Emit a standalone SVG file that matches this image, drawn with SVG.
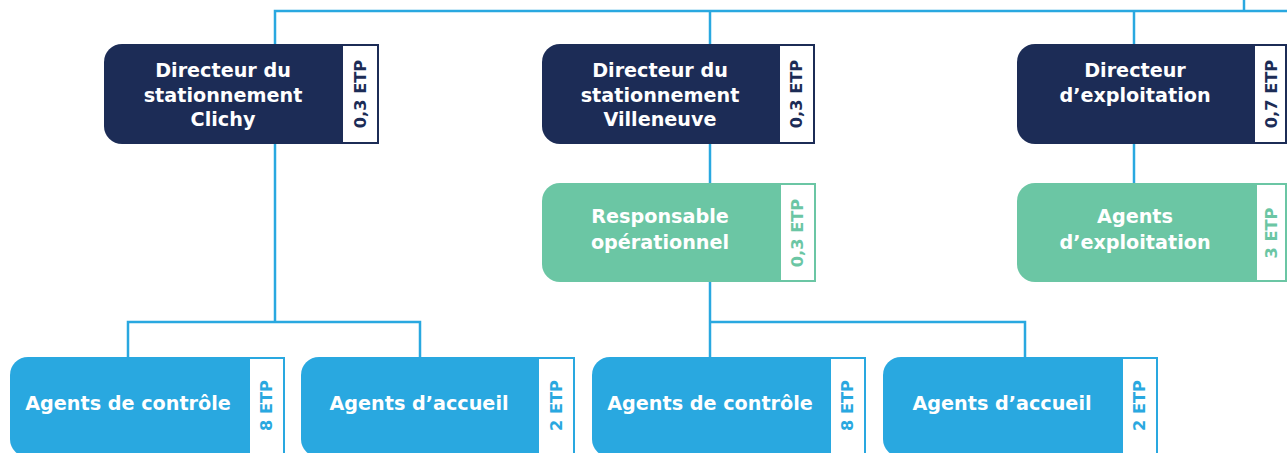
<svg xmlns="http://www.w3.org/2000/svg" width="1287" height="453" viewBox="0 0 1287 453">
<style>
.lbl{font-family:"DejaVu Sans","Open Sans",sans-serif;font-weight:700;font-size:19.2px;fill:#ffffff;text-anchor:middle}
.etp{font-family:"DejaVu Sans","Open Sans",sans-serif;font-weight:700;font-size:16.2px;text-anchor:middle;dominant-baseline:central}
.navy{fill:#1c2c56}
.green{fill:#6bc6a4}
.blue{fill:#29a8e0}
.tag{fill:#ffffff;stroke-width:2}
.tnavy{stroke:#1c2c56}
.tgreen{stroke:#6bc6a4}
.tblue{stroke:#29a8e0}
.cn{fill:none;stroke:#29a8e0;stroke-width:2.5;stroke-linejoin:miter}
</style>
<rect width="1287" height="453" fill="#ffffff"/>
<g id="connectors">
<path class="cn" d="M275 44 V11 H1287"/>
<path class="cn" d="M710 11 V44"/>
<path class="cn" d="M1134 11 V44"/>
<path class="cn" d="M1244 0 V11"/>
<path class="cn" d="M275 144 V322"/>
<path class="cn" d="M128 357 V322 H420 V357"/>
<path class="cn" d="M710 144 V183"/>
<path class="cn" d="M710 282 V357"/>
<path class="cn" d="M710 322 H1025 V357"/>
<path class="cn" d="M1134 144 V183"/>
</g>
<g id="dir-clichy">
<path class="navy" d="M122 44 H341 V144 H122 A18 18 0 0 1 104 126 V62 A18 18 0 0 1 122 44 Z"/>
<rect class="tag tnavy" x="342" y="45" width="36" height="98"/>
<text class="lbl"><tspan x="223" y="77">Directeur du</tspan><tspan x="223" y="101.5">stationnement</tspan><tspan x="223" y="126">Clichy</tspan></text>
<text class="etp navy" transform="translate(360 94) rotate(-90)">0,3 ETP</text>
</g>
<g id="dir-villeneuve">
<path class="navy" d="M560 44 H778 V144 H560 A18 18 0 0 1 542 126 V62 A18 18 0 0 1 560 44 Z"/>
<rect class="tag tnavy" x="779" y="45" width="35" height="98"/>
<text class="lbl"><tspan x="660" y="77">Directeur du</tspan><tspan x="660" y="101.5">stationnement</tspan><tspan x="660" y="126">Villeneuve</tspan></text>
<text class="etp navy" transform="translate(796 94) rotate(-90)">0,3 ETP</text>
</g>
<g id="dir-exploitation">
<path class="navy" d="M1035 44 H1253 V144 H1035 A18 18 0 0 1 1017 126 V62 A18 18 0 0 1 1035 44 Z"/>
<rect class="tag tnavy" x="1254" y="45" width="32" height="98"/>
<text class="lbl"><tspan x="1135" y="77">Directeur</tspan><tspan x="1135" y="101.5">d’exploitation</tspan></text>
<text class="etp navy" transform="translate(1271 94) rotate(-90)">0,7 ETP</text>
</g>
<g id="resp-operationnel">
<path class="green" d="M560 183 H779 V282 H560 A18 18 0 0 1 542 264 V201 A18 18 0 0 1 560 183 Z"/>
<rect class="tag tgreen" x="780" y="184" width="35" height="97"/>
<text class="lbl"><tspan x="660" y="223">Responsable</tspan><tspan x="660" y="249">opérationnel</tspan></text>
<text class="etp green" transform="translate(797.5 233) rotate(-90)">0,3 ETP</text>
</g>
<g id="agents-exploitation">
<path class="green" d="M1035 183 H1255 V282 H1035 A18 18 0 0 1 1017 264 V201 A18 18 0 0 1 1035 183 Z"/>
<rect class="tag tgreen" x="1256" y="184" width="30" height="97"/>
<text class="lbl"><tspan x="1135" y="223">Agents</tspan><tspan x="1135" y="249">d’exploitation</tspan></text>
<text class="etp green" transform="translate(1271 233) rotate(-90)">3 ETP</text>
</g>
<g id="agents-controle-1">
<path class="blue" d="M28 357 H248 V457 H28 A18 18 0 0 1 10 439 V375 A18 18 0 0 1 28 357 Z"/>
<rect class="tag tblue" x="249" y="358" width="35" height="100"/>
<text class="lbl" x="128" y="410">Agents de contrôle</text>
<text class="etp blue" transform="translate(266.5 405.5) rotate(-90)">8 ETP</text>
</g>
<g id="agents-accueil-1">
<path class="blue" d="M319 357 H537 V457 H319 A18 18 0 0 1 301 439 V375 A18 18 0 0 1 319 357 Z"/>
<rect class="tag tblue" x="538" y="358" width="36" height="100"/>
<text class="lbl" x="419" y="410">Agents d’accueil</text>
<text class="etp blue" transform="translate(556 405.5) rotate(-90)">2 ETP</text>
</g>
<g id="agents-controle-2">
<path class="blue" d="M610 357 H829 V457 H610 A18 18 0 0 1 592 439 V375 A18 18 0 0 1 610 357 Z"/>
<rect class="tag tblue" x="830" y="358" width="35" height="100"/>
<text class="lbl" x="710" y="410">Agents de contrôle</text>
<text class="etp blue" transform="translate(847.5 405.5) rotate(-90)">8 ETP</text>
</g>
<g id="agents-accueil-2">
<path class="blue" d="M901 357 H1121 V457 H901 A18 18 0 0 1 883 439 V375 A18 18 0 0 1 901 357 Z"/>
<rect class="tag tblue" x="1122" y="358" width="35" height="100"/>
<text class="lbl" x="1002" y="410">Agents d’accueil</text>
<text class="etp blue" transform="translate(1139.5 405.5) rotate(-90)">2 ETP</text>
</g>
</svg>
